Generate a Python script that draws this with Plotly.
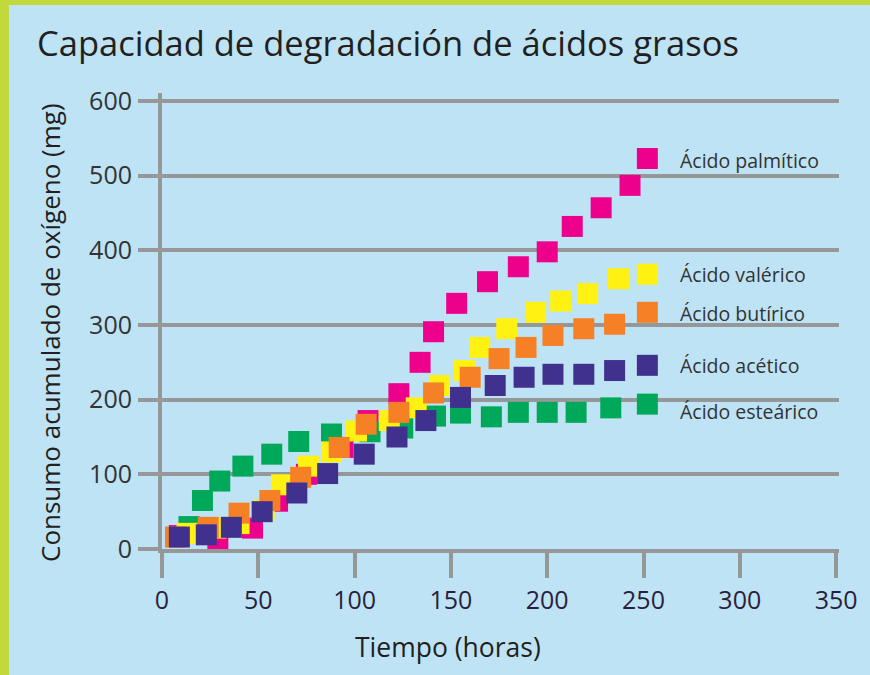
import plotly.graph_objects as go

# ---- data ----
palmitico_x = [9, 29, 47, 60, 75, 94, 107, 123, 134, 141, 153, 169, 185, 200, 213, 228, 243, 252]
palmitico_y = [18, 14, 28, 64, 100, 136, 172, 208, 250, 291, 329, 358, 378, 398, 432, 457, 487, 523]

esteárico_x = [14, 21, 30, 42, 57, 71, 88, 108, 125, 142, 155, 171, 185, 200, 215, 233, 252]
esteárico_y = [30, 65, 91, 111, 127, 144, 154, 157, 162, 178, 182, 177, 183, 183, 183, 189, 194]

valerico_x = [13, 28, 40, 53, 62, 76, 88, 101, 118, 132, 144, 157, 165, 179, 194, 207, 221, 237, 252]
valerico_y = [21, 28, 34, 52, 86, 111, 130, 158, 172, 189, 219, 239, 270, 295, 317, 332, 342, 362, 368]

butirico_x = [7, 24, 40, 56, 72, 92, 106, 123, 141, 160, 175, 189, 203, 219, 235, 252]
butirico_y = [16, 29, 48, 65, 96, 136, 167, 183, 209, 230, 255, 270, 286, 295, 301, 317]

acetico_x = [9, 23, 36, 52, 70, 86, 105, 122, 137, 155, 173, 188, 203, 219, 235, 252]
acetico_y = [16, 19, 29, 50, 75, 101, 127, 150, 172, 203, 219, 230, 234, 234, 239, 246]

x_ticks = [0, 50, 100, 150, 200, 250, 300, 350]
y_ticks = [0, 100, 200, 300, 400, 500, 600]

# drawn bottom -> top
series = [
    ("Ácido palmítico", palmitico_x, palmitico_y, "#EC008C", -2),
    ("Ácido esteárico", esteárico_x, esteárico_y, "#00A859", -7),
    ("Ácido valérico", valerico_x, valerico_y, "#FFF212", 0),
    ("Ácido butírico", butirico_x, butirico_y, "#F58025", -1),
    ("Ácido acético", acetico_x, acetico_y, "#41318F", 0),
]

BG = "#BEE3F5"
GRID = "#959799"
BORDER = "#C3D83B"
FONT = "Open Sans"

W, H = 870, 675
ML, MR, MT, MB = 162, 27, 93, 126
PW, PH = W - ML - MR, H - MT - MB

fig = go.Figure()
for name, xs, ys, col, _ in series:
    fig.add_trace(go.Scatter(
        x=xs, y=ys, mode="markers", name=name, cliponaxis=False,
        marker=dict(symbol="square", size=21, color=col, line=dict(width=0)),
        hoverinfo="x+y+name",
    ))

annotations = []
for name, xs, ys, col, shift in series:
    annotations.append(dict(
        x=268, y=ys[-1], xref="x", yref="y", text=name, showarrow=False,
        xanchor="left", yanchor="middle", yshift=shift,
        font=dict(family=FONT, size=19.5, color="#333333"),
    ))

# axis titles
annotations.append(dict(
    x=0, y=(549 - 333) / PH, xref="paper", yref="paper", xshift=-112, textangle=-90,
    text="Consumo acumulado de oxígeno (mg)", showarrow=False,
    xanchor="center", yanchor="middle",
    font=dict(family=FONT, size=26, color="#231F20"),
))
annotations.append(dict(
    x=(450 - ML) / PW, y=0, xref="paper", yref="paper", yshift=-98,
    text="Tiempo (horas)", showarrow=False,
    xanchor="center", yanchor="middle",
    font=dict(family=FONT, size=26.5, color="#231F20"),
))

shapes = [
    # green frame (left and top strips)
    dict(type="rect", xref="paper", yref="paper",
         x0=-(ML + 5) / PW, x1=-(ML - 8) / PW, y0=-(MB + 5) / PH, y1=(PH + MT + 5) / PH,
         fillcolor=BORDER, line=dict(width=0), layer="above"),
    dict(type="rect", xref="paper", yref="paper",
         x0=-(ML + 5) / PW, x1=(PW + MR + 5) / PW, y0=(PH + MT - 5) / PH, y1=(PH + MT + 5) / PH,
         fillcolor=BORDER, line=dict(width=0), layer="above"),
]

fig.update_layout(
    width=W, height=H,
    margin=dict(l=ML, r=MR, t=MT, b=MB, pad=0),
    paper_bgcolor=BG, plot_bgcolor=BG,
    showlegend=False,
    title=dict(text="Capacidad de degradación de ácidos grasos",
               x=37 / W, xref="container", xanchor="left",
               y=1 - 44 / H, yref="container", yanchor="middle",
               font=dict(family=FONT, size=34.5, color="#231F20")),
    annotations=annotations,
    shapes=shapes,
    font=dict(family=FONT),
)

fig.update_xaxes(
    range=[0, 351.5], tickvals=x_ticks, ticktext=[str(v) for v in x_ticks],
    showgrid=False, zeroline=False, showline=True, linecolor=GRID, linewidth=4,
    ticks="outside", ticklen=25, tickwidth=4, tickcolor=GRID,
    ticklabelstandoff=1,
    tickfont=dict(family=FONT, size=25, color="#2B1E3D"),
)
fig.update_yaxes(
    range=[0, 610.7], tickvals=y_ticks, ticktext=[str(v) for v in y_ticks],
    showgrid=True, gridcolor=GRID, gridwidth=4, zeroline=False,
    showline=True, linecolor=GRID, linewidth=4,
    ticks="outside", ticklen=20, tickwidth=4, tickcolor=GRID,
    ticklabelstandoff=1,
    tickfont=dict(family=FONT, size=25, color="#333333"),
)

fig.write_html(
    "out.html",
    config={"displayModeBar": False},
    post_script="document.body.style.margin='0px';document.body.style.overflow='hidden';",
)
